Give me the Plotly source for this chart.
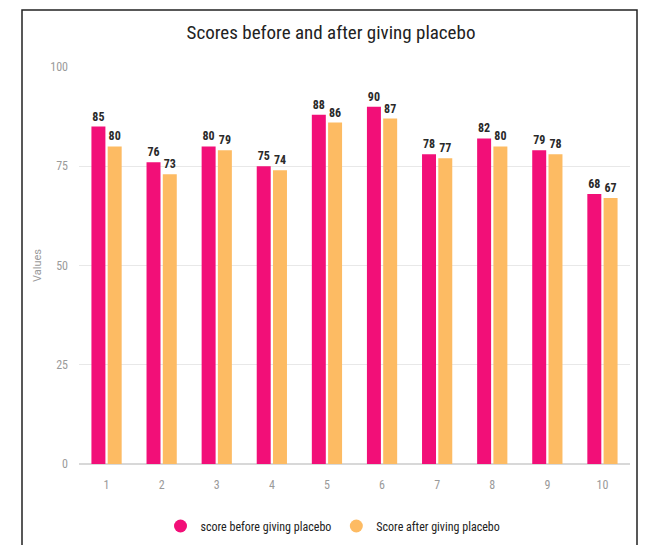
import plotly.graph_objects as go

categories = ["1", "2", "3", "4", "5", "6", "7", "8", "9", "10"]
before = [85, 76, 80, 75, 88, 90, 78, 82, 79, 68]
after = [80, 73, 79, 74, 86, 87, 77, 80, 78, 67]
series_names = ["score before giving placebo", "Score after giving placebo"]
y_ticks = [0, 25, 50, 75, 100]

PINK = "#F20F78"
ORANGE = "#FDBB63"
NARROW = "Liberation Sans Narrow, Roboto Condensed, DejaVu Sans Condensed, Roboto, sans-serif"

fig = go.Figure()
for name, vals, col in [(series_names[0], before, PINK), (series_names[1], after, ORANGE)]:
    fig.add_trace(go.Bar(
        x=categories, y=vals, name=name, marker=dict(color=col, line=dict(width=0)),
        text=[str(v) for v in vals], textposition="outside",
        textfont=dict(family=NARROW, size=12, color="#2a2a2a"),
        texttemplate="<b>%{text}</b>", cliponaxis=False, showlegend=False,
    ))
# legend entries with round markers
for name, col in [(series_names[0], PINK), (series_names[1], ORANGE)]:
    fig.add_trace(go.Scatter(
        x=[None], y=[None], mode="markers", name=name,
        marker=dict(symbol="circle", size=13, color=col), showlegend=True,
    ))

L, R, T, B = 79, 19, 67, 81
W, H = 649, 545
pw, ph = W - L - R, H - T - B

def px(xp):
    return (xp - L) / pw

def py(yp):
    return (H - B - yp) / ph

fig.update_layout(
    width=W, height=H,
    margin=dict(l=L, r=R, t=T, b=B, autoexpand=False),
    paper_bgcolor="white", plot_bgcolor="white",
    barmode="group", bargap=0.41, bargroupgap=0.14,
    title=dict(text="Scores before and after giving placebo", x=331 / W, xref="container",
               xanchor="center", y=1 - 32 / H, yanchor="middle",
               font=dict(family=NARROW, size=19, color="#222222")),
    xaxis=dict(type="category", showgrid=False, showline=False, ticks="",
               ticklabelstandoff=12,
               tickfont=dict(family=NARROW, size=12, color="#9a9a9a"),
               range=[-0.5, 9.5]),
    yaxis=dict(range=[0, 100], tickvals=y_ticks, showgrid=True, gridcolor="#e8e8e8",
               gridwidth=1, zeroline=True, zerolinecolor="#d8d8d8", showline=False,
               ticks="", ticklabelstandoff=10,
               tickfont=dict(family=NARROW, size=12, color="#9a9a9a"),
               title=dict(text="Values", standoff=6,
                          font=dict(family="Roboto, sans-serif", size=11, color="#9a9a9a"))),
    legend=dict(orientation="h", xref="container", x=333 / W, xanchor="center",
                y=py(526), yanchor="middle",
                font=dict(family=NARROW, size=12, color="#222222"),
                itemsizing="trace", itemwidth=30, tracegroupgap=0),
    shapes=[dict(type="rect", xref="paper", yref="paper",
                 x0=px(22), x1=px(637), y0=py(560), y1=py(10),
                 line=dict(color="#222222", width=1.5), fillcolor="rgba(0,0,0,0)")],
)

fig.write_html("out.html")
